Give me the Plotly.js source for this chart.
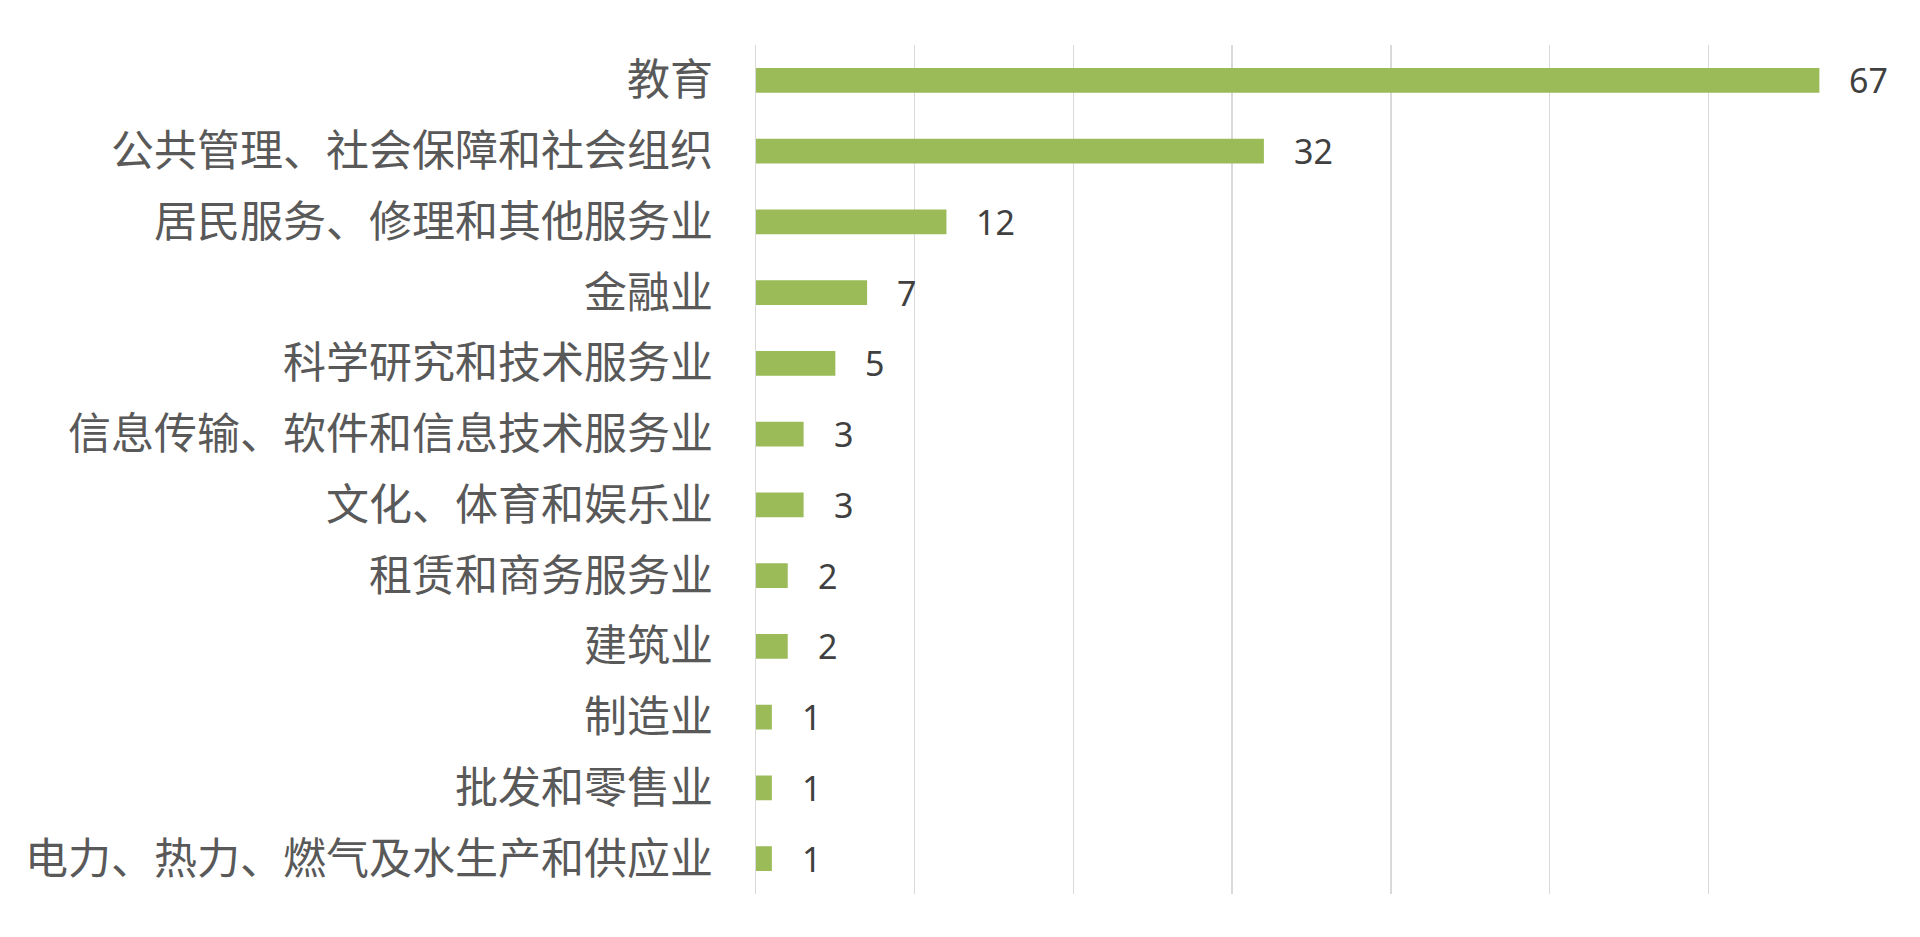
<!DOCTYPE html>
<html>
<head>
<meta charset="utf-8">
<script src="https://cdn.plot.ly/plotly-3.0.1.min.js"></script>
<style>
html,body{margin:0;padding:0;background:#fff;}
#chart{width:1920px;height:937px;}
</style>
</head>
<body>
<div id="chart"></div>
<script>
var categories = [
  "教育",
  "公共管理、社会保障和社会组织",
  "居民服务、修理和其他服务业",
  "金融业",
  "科学研究和技术服务业",
  "信息传输、软件和信息技术服务业",
  "文化、体育和娱乐业",
  "租赁和商务服务业",
  "建筑业",
  "制造业",
  "批发和零售业",
  "电力、热力、燃气及水生产和供应业"
];
var values = [67, 32, 12, 7, 5, 3, 3, 2, 2, 1, 1, 1];
var gridTicks = [0, 10, 20, 30, 40, 50, 60, 70];

var trace = {
  type: "bar",
  orientation: "h",
  y: categories,
  x: values,
  marker: {color: "#9BBB59"},
  hoverinfo: "x+y"
};

var annotations = values.map(function(v, i) {
  return {
    x: v, y: categories[i], xref: "x", yref: "y",
    text: String(v), showarrow: false,
    xanchor: "left", yanchor: "middle", xshift: 28,
    font: {family: "Noto Sans, Liberation Sans, sans-serif", size: 34, color: "#404040"}
  };
});

var layout = {
  width: 1920, height: 937,
  paper_bgcolor: "#ffffff", plot_bgcolor: "#ffffff",
  margin: {l: 756, r: 53, t: 45, b: 43},
  bargap: 0.65,
  showlegend: false,
  xaxis: {
    range: [0, 70],
    tickvals: gridTicks,
    showticklabels: false,
    showgrid: true, gridcolor: "#d9d9d9", gridwidth: 1.5,
    zeroline: false, showline: false, ticks: ""
  },
  yaxis: {
    type: "category",
    categoryorder: "array", categoryarray: categories,
    autorange: "reversed",
    showgrid: false, zeroline: false,
    showline: true, linecolor: "#d9d9d9", linewidth: 1.5,
    ticks: "", ticklabelstandoff: 33,
    tickfont: {family: "Noto Sans CJK SC, sans-serif", size: 43, color: "#595959"}
  },
  annotations: annotations
};

Plotly.newPlot("chart", [trace], layout, {displayModeBar: false, staticPlot: true});
</script>
</body>
</html>
